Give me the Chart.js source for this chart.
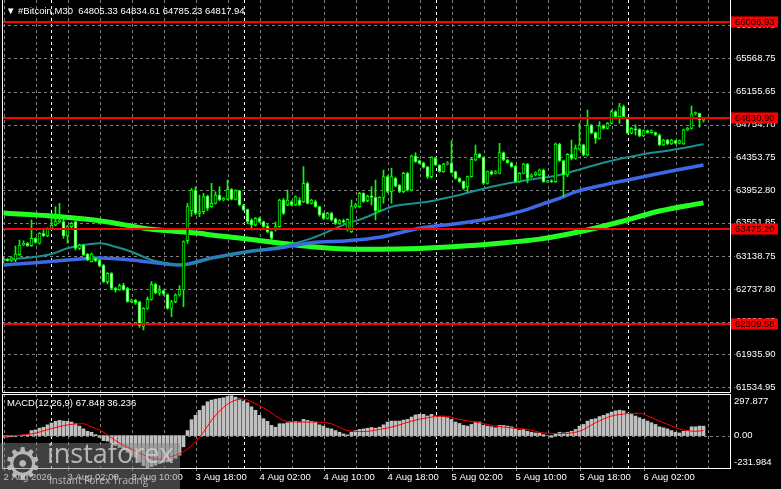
<!DOCTYPE html>
<html><head><meta charset="utf-8">
<script src="https://cdn.jsdelivr.net/npm/chart.js@4.4.1/dist/chart.umd.min.js"></script>
<style>
html,body{margin:0;padding:0;background:#000;}
#wrap{position:relative;width:781px;height:489px;overflow:hidden;background:#000;font-family:"Liberation Sans",Arial,sans-serif;}
#c1{position:absolute;left:0;top:0;}
#c2{position:absolute;left:0;top:393px;}
.txt{position:absolute;color:#fff;font-size:9.5px;line-height:11px;white-space:pre;}
#wm{position:absolute;left:0;top:443px;width:180px;height:46px;background:rgba(128,128,128,0.5);overflow:hidden;}
#wm .gear{position:absolute;left:3px;top:-4px;font-family:"DejaVu Sans";font-size:44px;line-height:50px;color:rgba(205,205,205,0.85);}
#wm .big{position:absolute;left:47px;top:-5px;font-family:"Open Sans",sans-serif;font-size:27px;line-height:30px;color:rgba(205,205,205,0.85);}
#wm .small{position:absolute;left:49px;top:31px;font-family:"Open Sans",sans-serif;font-size:10px;line-height:12px;color:rgba(205,205,205,0.85);}
</style></head><body>
<div id="wrap">
<canvas id="c1" width="781" height="393"></canvas>
<canvas id="c2" width="781" height="96"></canvas>
<div class="txt" style="left:6px;top:5px">▼ #Bitcoin,M30  64805.33 64834.61 64785.23 64817.94</div>
<div class="txt" style="left:7px;top:397px">MACD(12,26,9) 67.848 36.236</div>
<div id="wm"><span class="gear">⚙</span><span class="big">instaforex</span><span class="small">Instant Forex Trading</span></div>
</div>
<script>
// ---- candles (M30 bars, index 0 = 2 Aug 18:00) ----
const open=[
63082,63100,63090,63094,63160,63278,63300,63270,63360,63300,
63421,63390,63482,63523,63564,63564,63390,63503,63564,63237,
63278,63168,63074,63114,63094,63033,62828,62931,62747,62726,
62788,62747,62583,62604,62583,62280,62502,62612,62796,62690,
62720,62670,62502,62583,62665,62726,63330,63700,63953,63666,
63687,63879,63748,63789,63891,63830,63840,63961,63838,63944,
63769,63716,63585,63523,63605,63564,63511,63442,63462,63503,
63830,63769,63810,63769,63830,63810,64034,63789,63810,63748,
63666,63605,63666,63600,63544,63577,63462,63442,63748,63748,
63912,63821,63879,63862,63700,63862,64116,63932,64095,64013,
63932,64156,63952,64369,64312,64287,64238,64116,64340,64259,
64177,64271,64279,64177,64095,64060,63993,64116,64320,64394,
64353,64034,64177,64156,64156,64410,64320,64287,64246,64054,
64156,64271,64116,64136,64136,64197,64054,64062,64055,64517,
64313,64137,64390,64341,64452,64505,64382,64750,64656,64586,
64738,64709,64770,64913,64852,64975,64819,64648,64697,64697,
64615,64680,64656,64656,64627,64505,64566,64517,64558,64525,
64517,64689,64709,64885,64893,64805.33];
const high=[
63127,63110,63135,63266,63339,63330,63310,63585,63370,63430,
63462,63490,63666,63748,63789,63600,63520,63560,63580,63290,
63290,63175,63180,63125,63100,63040,62940,62940,62760,62800,
62810,62760,62615,62612,62590,62510,62640,62830,62810,62780,
62730,62680,62600,62680,62780,63330,63790,63970,63990,63891,
63912,63890,64034,63932,63993,63860,64075,63970,63955,63950,
63775,63720,63600,63615,63620,63570,63530,63450,63560,63840,
63850,63953,63820,63880,63860,64239,64050,63840,63830,63755,
63675,63680,63680,63610,63590,63595,63600,63830,63790,63925,
63920,63890,63993,64075,63870,64197,64130,64218,64110,64020,
64170,64170,64380,64410,64320,64295,64245,64360,64350,64265,
64280,64300,64557,64185,64105,64065,64125,64340,64504,64400,
64360,64185,64190,64190,64524,64420,64330,64295,64255,64165,
64280,64280,64150,64175,64210,64210,64070,64080,64530,64525,
64320,64400,64566,64505,64770,64515,64934,64760,64665,64791,
64750,64780,64934,64925,65016,64995,64830,64720,64750,64705,
64690,64690,64690,64665,64640,64575,64575,64575,64565,64566,
64700,64720,64983,64910,64895,64834.61];
const low=[
63061,63080,63074,63074,63150,63270,63260,63260,63300,63290,
63380,63380,63475,63515,63550,63360,63300,63490,63217,63220,
63150,63085,63070,63075,63010,62815,62800,62740,62700,62720,
62720,62575,62570,62550,62270,62236,62490,62600,62680,62660,
62660,62490,62400,62570,62650,62522,63300,63630,63650,63626,
63660,63700,63740,63780,63820,63820,63830,63830,63830,63760,
63700,63540,63462,63510,63550,63495,63430,63340,63450,63495,
63650,63760,63760,63760,63760,63800,63780,63780,63740,63630,
63590,63595,63570,63530,63530,63545,63450,63430,63730,63740,
63800,63810,63768,63585,63690,63790,63920,63790,63990,63920,
63920,63940,63940,64290,64270,64220,64095,64100,64250,64170,
64170,64260,64160,64085,64045,63960,63932,64110,64310,64345,
64020,64025,64140,64150,64150,64310,64280,64230,64045,64045,
64150,64040,64105,64125,64125,64045,64045,64045,64045,64300,
63871,64116,64321,64330,64440,64370,64370,64640,64525,64575,
64700,64700,64760,64845,64770,64840,64640,64640,64627,64605,
64607,64650,64648,64620,64495,64497,64510,64510,64515,64517,
64510,64680,64700,64870,64721,64785.23];
const close=[
63100,63090,63120,63168,63278,63300,63270,63360,63310,63421,
63390,63482,63523,63564,63585,63390,63503,63544,63237,63278,
63155,63094,63168,63082,63021,62828,62931,62747,62726,62780,
62730,62583,62604,62570,62290,62502,62612,62796,62690,62720,
62680,62502,62583,62665,62734,63319,63748,63953,63666,63687,
63871,63728,63789,63891,63830,63850,63961,63838,63944,63769,
63707,63564,63523,63605,63564,63503,63442,63360,63503,63830,
63666,63830,63769,63871,63769,64034,63789,63830,63748,63646,
63605,63666,63585,63544,63577,63560,63593,63748,63769,63912,
63809,63879,63862,63700,63862,64116,63932,64116,64001,63932,
64156,63952,64369,64300,64279,64230,64116,64353,64259,64177,
64271,64287,64165,64095,64054,63972,64116,64328,64394,64353,
64034,64177,64148,64177,64410,64320,64287,64238,64054,64156,
64271,64095,64136,64165,64197,64054,64062,64054,64517,64313,
64137,64390,64341,64464,64505,64382,64750,64648,64586,64738,
64709,64770,64913,64852,64975,64852,64648,64709,64689,64615,
64680,64656,64680,64627,64505,64566,64517,64566,64525,64558,
64689,64709,64885,64901,64811,64817.94];

// ---- moving averages: [bar index, price] ----
const maSlow=[[0,63671],[12,63634],[24,63576],[37,63471],[49,63422],[52,63401],[61,63352],[69,63303],[77,63257],[86,63229],[94,63225],[104,63235],[114,63262],[124,63300],[134,63350],[144,63440],[154,63560],[164,63695],[175,63795]];
const maMid=[[0,63033],[7,63058],[16,63094],[24,63119],[32,63094],[41,63042],[44,63033],[52,63119],[61,63196],[69,63242],[77,63307],[86,63331],[94,63373],[104,63483],[114,63544],[122,63606],[131,63715],[135,63785],[139,63850],[143,63930],[151,64025],[156,64075],[162,64137],[167,64186],[175,64259]];
const maFast=[[0,63094],[7,63127],[12,63168],[16,63238],[20,63278],[24,63299],[28,63257],[32,63196],[37,63094],[41,63054],[45,63033],[52,63115],[61,63196],[69,63257],[77,63360],[86,63544],[90,63606],[94,63690],[97,63748],[106,63809],[114,63891],[122,63993],[131,64075],[134,64096],[139,64137],[142,64177],[151,64300],[159,64382],[167,64443],[175,64513]];

// ---- MACD ----
const macdHist=[
-12,-10,-8,-5,0,5,10,36,41,53,
60,77,90,102,109,104,102,97,85,68,
48,31,24,7,-12,-36,-40,-55,-70,-85,
-100,-120,-140,-155,-190,-215,-230,-222,-212,-200,
-190,-188,-178,-162,-140,-80,36,114,145,181,
213,242,254,261,266,271,280,286,275,263,
247,235,206,181,145,121,102,73,60,85,
85,92,97,102,97,116,109,102,97,77,
68,53,48,36,24,12,5,24,36,44,
48,53,58,53,60,77,97,104,104,104,
111,116,133,148,152,152,140,152,140,136,
133,128,116,97,87,73,68,80,97,97,
73,68,63,56,73,73,68,63,48,39,
44,31,24,19,19,7,0,-12,15,24,
19,24,31,44,68,80,104,116,121,136,
145,157,169,177,182,177,160,152,140,128,
116,104,92,80,63,56,48,36,24,19,
31,36,63,63,68,67.85];
const macdSignal=[[0,-5],[7,12],[12,50],[16,77],[20,85],[22,62],[24,40],[26,5],[28,-36],[32,-97],[36,-150],[39,-170],[42,-150],[46,-97],[49,-12],[53,145],[57,242],[60,261],[62,242],[66,181],[70,109],[74,97],[78,97],[82,85],[86,36],[90,29],[94,44],[98,68],[102,104],[106,128],[110,140],[114,116],[119,92],[123,68],[127,56],[131,44],[135,19],[139,15],[144,31],[148,92],[152,140],[156,157],[159,160],[161,140],[165,92],[169,48],[173,31],[175,36.24]];

// ---- axes / labels ----
const priceTicks=[61534.95,61935.90,62336.85,62737.80,63138.75,63551.85,63952.80,64353.75,64754.70,65155.65,65568.75,65969.70];
const levels=[66006.93,64830.90,63475.20,62309.58];
const gridIdx=[0,8,12,16,24,32,40,48,56,60,64,72,80,88,96,104,108,112,120,128,136,144,152,156,160,168,176];
const dayIdx=[12,60,108,156];
const timeIdx=[0,16,32,48,64,80,96,112,128,144,160];
const timeLabels=['2 Aug 2026','3 Aug 02:00','3 Aug 10:00','3 Aug 18:00','4 Aug 02:00','4 Aug 10:00','4 Aug 18:00','5 Aug 02:00','5 Aug 10:00','5 Aug 18:00','6 Aug 02:00'];
const macdTickVals=[297.877,0,-231.984];
const macdTickText=['297.877','0.00','-231.984'];

const FONT='"Liberation Sans", Arial, sans-serif';
Chart.defaults.font.family=FONT;
Chart.defaults.font.size=9.5;
Chart.defaults.color='#ffffff';

const GRID='#808080';
const X_MIN=-0.375, X_MAX=181.625;

function xScale(showLabels){
  return {
    type:'linear', min:X_MIN, max:X_MAX, offset:false,
    afterBuildTicks:s=>{s.ticks=gridIdx.map(v=>({value:v}));},
    afterFit:s=>{s.height=showLabels?21:0;s.paddingLeft=0;s.paddingRight=0;},
    grid:{display:false,drawTicks:false},
    border:{display:false},
    ticks:{display:showLabels,autoSkip:false,maxRotation:0,minRotation:0,align:'start',padding:4,color:'#ffffff',
      callback:v=>{const k=timeIdx.indexOf(v);return k>=0?timeLabels[k]:'';}}
  };
}

const pts=a=>a.map(p=>({x:p[0],y:p[1]}));

// dashed grid drawn from the scales
function drawGrid(chart,yVals,showXTicks){
  const {ctx,chartArea:a,scales:{x,y}}=chart;
  ctx.save();
  ctx.lineWidth=1;ctx.setLineDash([3,3]);
  gridIdx.forEach(v=>{
    const px=Math.round(x.getPixelForValue(v))+0.5;
    ctx.strokeStyle=dayIdx.includes(v)?'#ffffff':GRID;
    ctx.beginPath();ctx.moveTo(px,a.top);ctx.lineTo(px,a.bottom);ctx.stroke();
  });
  ctx.strokeStyle=GRID;
  yVals.forEach(v=>{
    const py=Math.round(y.getPixelForValue(v))+0.5;
    ctx.beginPath();ctx.moveTo(a.left,py);ctx.lineTo(a.right+5,py);ctx.stroke();
  });
  ctx.setLineDash([]);
  if(showXTicks){
    timeIdx.forEach(v=>{
      const px=Math.round(x.getPixelForValue(v))+0.5;
      ctx.beginPath();ctx.moveTo(px,a.bottom);ctx.lineTo(px,a.bottom+3);ctx.stroke();
    });
  }
  ctx.restore();
}

const mainDecor={
  id:'mainDecor',
  beforeDatasetsDraw(chart){drawGrid(chart,priceTicks,false);},
  afterDatasetsDraw(chart){
    const {ctx,chartArea:a,scales:{y}}=chart;
    ctx.save();
    ctx.strokeStyle='#ff0000';ctx.lineWidth=2;
    levels.forEach(v=>{const py=Math.round(y.getPixelForValue(v));ctx.beginPath();ctx.moveTo(a.left,py);ctx.lineTo(a.right,py);ctx.stroke();});
    ctx.restore();
  },
  afterDraw(chart){
    const {ctx,chartArea:a,scales:{y}}=chart;
    ctx.save();
    ctx.font='9.5px '+FONT;ctx.textBaseline='middle';ctx.textAlign='left';
    levels.forEach(v=>{
      const py=Math.round(y.getPixelForValue(v));
      ctx.fillStyle='#ff0000';ctx.fillRect(a.right+1,py-5.5,47,11);
      ctx.fillStyle='#000000';ctx.fillText(v.toFixed(2),a.right+5,py+0.5);
    });
    ctx.strokeStyle='#ffffff';ctx.lineWidth=1;
    ctx.beginPath();
    ctx.moveTo(a.left+0.5,0);ctx.lineTo(a.left+0.5,a.bottom+0.5);
    ctx.lineTo(a.right+0.5,a.bottom+0.5);ctx.lineTo(a.right+0.5,0);
    ctx.stroke();
    ctx.restore();
  }
};

new Chart(document.getElementById('c1'),{
  type:'bar',
  data:{datasets:[
    {type:'bar',label:'body',data:open.map((o,i)=>({x:i,y:[o,close[i]]})),order:0,grouped:false,barThickness:3,minBarLength:1,
      borderWidth:1,borderSkipped:false,borderColor:'#00ff00',
      backgroundColor:c=>{const d=c.raw;return d&&d.y[1]>=d.y[0]?'#000000':'#ffffff';}},
    {type:'bar',label:'wick',data:open.map((o,i)=>({x:i,y:[low[i],high[i]]})),order:1,grouped:false,barThickness:1,
      borderWidth:0,backgroundColor:'#00ff00'},
    {type:'line',label:'fast',data:pts(maFast),order:2,borderColor:'#1a9090',borderWidth:2,pointRadius:0,cubicInterpolationMode:'monotone',fill:false},
    {type:'line',label:'mid',data:pts(maMid),order:3,borderColor:'#3d68e6',borderWidth:3.5,pointRadius:0,cubicInterpolationMode:'monotone',fill:false},
    {type:'line',label:'slow',data:pts(maSlow),order:4,borderColor:'#22ff22',borderWidth:5,pointRadius:0,cubicInterpolationMode:'monotone',fill:false}
  ]},
  options:{
    responsive:false,animation:false,events:[],
    layout:{padding:{left:2,right:0,top:0,bottom:1}},
    plugins:{legend:{display:false},tooltip:{enabled:false}},
    scales:{
      x:xScale(false),
      y:{type:'linear',position:'right',min:61476,max:66282,
        afterBuildTicks:s=>{s.ticks=priceTicks.map(v=>({value:v}));},
        afterFit:s=>{s.width=51;s.paddingTop=0;s.paddingBottom=0;},
        grid:{display:false,drawTicks:false},
        border:{display:false},
        ticks:{padding:6,color:'#ffffff',callback:v=>v.toFixed(2)}}
    }
  },
  plugins:[mainDecor]
});

const macdDecor={
  id:'macdDecor',
  beforeDatasetsDraw(chart){drawGrid(chart,[0],true);},
  afterDraw(chart){
    const {ctx,chartArea:a,scales:{y}}=chart;
    ctx.save();
    ctx.font='9.5px '+FONT;ctx.fillStyle='#ffffff';ctx.textAlign='left';
    macdTickVals.forEach((v,k)=>{
      let py=y.getPixelForValue(v);
      if(k===0){ctx.textBaseline='top';py=a.top+3;}
      else if(k===macdTickVals.length-1){ctx.textBaseline='alphabetic';py=a.bottom-3;}
      else ctx.textBaseline='middle';
      ctx.fillText(macdTickText[k],a.right+4,py);
    });
    ctx.strokeStyle='#ffffff';ctx.lineWidth=1;
    ctx.strokeRect(a.left+0.5,a.top+0.5,a.right-a.left,a.bottom-a.top);
    ctx.restore();
  }
};

new Chart(document.getElementById('c2'),{
  type:'bar',
  data:{datasets:[
    {type:'line',label:'signal',data:pts(macdSignal),order:0,borderColor:'#ff0000',borderWidth:1,pointRadius:0,cubicInterpolationMode:'monotone',fill:false},
    {type:'bar',label:'macd',data:macdHist.map((v,i)=>({x:i,y:v})),order:1,grouped:false,barThickness:3,backgroundColor:'#c0c0c0',borderWidth:0}
  ]},
  options:{
    responsive:false,animation:false,events:[],
    layout:{padding:{left:2,right:0,top:1,bottom:0}},
    plugins:{legend:{display:false},tooltip:{enabled:false}},
    scales:{
      x:xScale(true),
      y:{type:'linear',position:'right',min:-231.984,max:297.877,
        afterBuildTicks:s=>{s.ticks=[{value:0}];},
        afterFit:s=>{s.width=51;s.paddingTop=0;s.paddingBottom=0;},
        grid:{display:false,drawTicks:false},
        border:{display:false},
        ticks:{display:false}}
    }
  },
  plugins:[macdDecor]
});
</script>
</body></html>
